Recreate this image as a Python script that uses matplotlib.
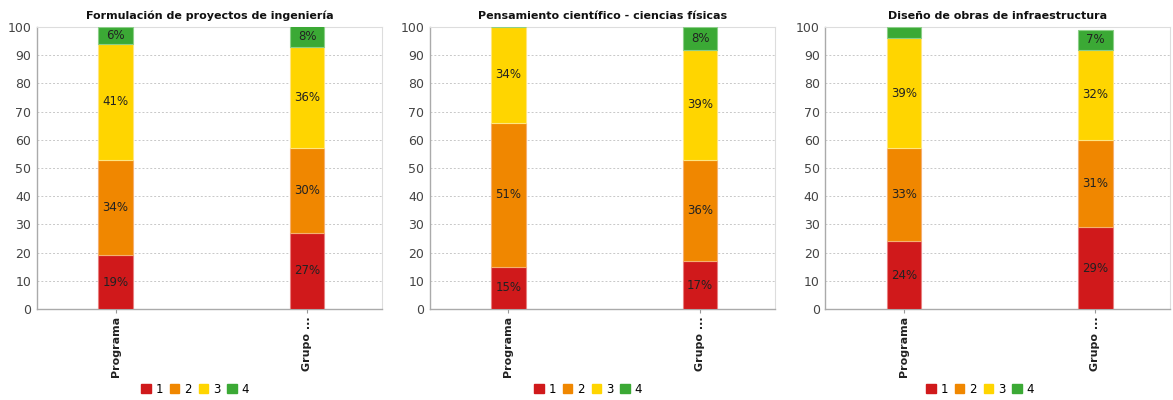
import numpy as np
import matplotlib
matplotlib.use('Agg')
import matplotlib.pyplot as plt
from matplotlib.patches import Patch

# Data
titles = ['Formulación de proyectos de ingeniería',
          'Pensamiento científico - ciencias físicas',
          'Diseño de obras de infraestructura']
categories = ['Programa', 'Grupo ...']
levels = ['1', '2', '3', '4']

# values[level] -> [Programa, Grupo]
panel1 = {'1': [19, 27], '2': [34, 30], '3': [41, 36], '4': [6, 8]}
panel2 = {'1': [15, 17], '2': [51, 36], '3': [34, 39], '4': [0, 8]}
panel3 = {'1': [24, 29], '2': [33, 31], '3': [39, 32], '4': [4, 7]}
panels = [panel1, panel2, panel3]

colors = ['#D0191B', '#F08700', '#FFD500', '#3BA935']
edges = ['#E88080', '#F5B070', '#FFE680', '#8CCF88']

fig = plt.figure(figsize=(11.73, 4.0), dpi=100)
lefts = [0.0315, 0.3665, 0.7035]
legend_x = [195 / 1173, 588 / 1173, 980 / 1173]
width = 0.294
bottom, height = 0.2275, 0.705

x = np.arange(len(categories))
for i, (data, title) in enumerate(zip(panels, titles)):
    ax = fig.add_axes([lefts[i], bottom, width, height])
    base = np.zeros(len(categories))
    for lv, c, ec in zip(levels, colors, edges):
        vals = np.array(data[lv], dtype=float)
        ax.bar(x, vals, 0.18, bottom=base, color=c, edgecolor=ec,
               linewidth=0.8, zorder=3)
        for xi, v, b in zip(x, vals, base):
            if v >= 5:
                yc = (b + min(b + v, 100)) / 2
                ax.text(xi, yc, f'{int(v)}%', ha='center', va='center',
                        fontsize=8.5, color='#222222', zorder=4)
        base += vals

    ax.set_xlim(-0.41, 1.39)
    ax.set_ylim(0, 100)
    ax.set_yticks(range(0, 101, 10))
    ax.set_xticks(x)
    ax.set_xticklabels(categories, rotation=90, fontsize=8,
                       fontweight='bold', color='#222222')
    ax.tick_params(axis='y', labelsize=9, colors='#444444', length=0, pad=4)
    ax.tick_params(axis='x', length=3, color='#999999', pad=2)
    ax.yaxis.grid(True, linestyle=(0, (2, 2)), color='#C8C8C8',
                  linewidth=0.7, zorder=0)
    for side in ['top', 'right']:
        ax.spines[side].set_color('#DDDDDD')
        ax.spines[side].set_linewidth(0.8)
    for side in ['left', 'bottom']:
        ax.spines[side].set_color('#AAAAAA')
        ax.spines[side].set_linewidth(1.0)
    ax.set_title(title, fontsize=8, fontweight='bold', pad=6, color='#111111')

    handles = [Patch(facecolor=c, edgecolor=c) for c in colors]
    fig.legend(handles, levels, loc='center',
               bbox_to_anchor=(legend_x[i], 0.027),
               ncol=4, frameon=False, fontsize=8.5, handlelength=0.8,
               handleheight=0.8, handletextpad=0.4, columnspacing=0.6)

fig.savefig('out.png', dpi=100)
